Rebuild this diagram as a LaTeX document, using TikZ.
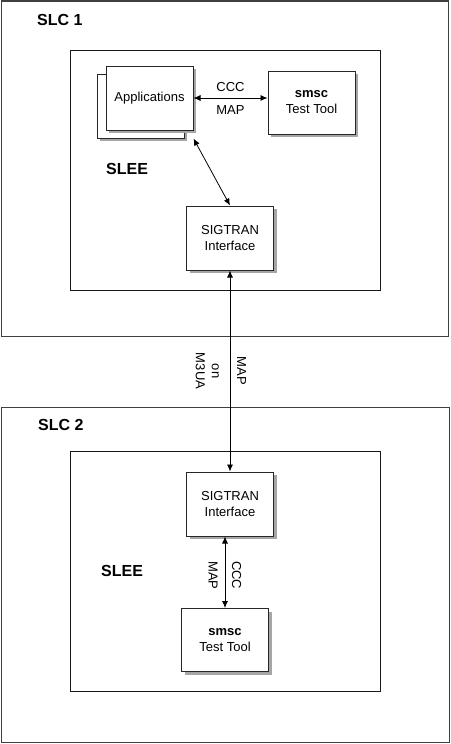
\documentclass[tikz,border=0pt]{standalone}
\usepackage{fontspec}
\setmainfont{Liberation Sans}
\usetikzlibrary{
	arrows.meta,
	shadows
}

\begin{document}
\begin{tikzpicture}[
    x=1pt, y=-1pt,
    every node/.style={font=\fontsize{13}{16}\selectfont},
    outerframe/.style={rectangle, draw=black!75, line width=1pt, minimum width=447pt, minimum height=335pt, inner sep=0pt},
    sleeframe/.style={rectangle, draw=black!90, line width=1pt, minimum width=310pt, minimum height=240pt, inner sep=0pt},
    box/.style={rectangle, draw=black!85, line width=1pt, fill=white, minimum width=87pt, minimum height=64pt, align=center, inner sep=0pt, drop shadow={shadow xshift=3pt, shadow yshift=-3pt, fill=black!35, opacity=1}},
    title/.style={font=\fontsize{16}{19}\selectfont\bfseries, anchor=west, inner sep=0pt},
    arrow/.style={line width=0.8pt, {Latex[length=7pt,width=6pt]}-{Latex[length=7pt,width=6pt]}}
]
\useasboundingbox (0,0) rectangle (450,744);

% Service logic containers
\node[outerframe] (slc1) at (224.5,168.5) {};
\node[outerframe, minimum width=448pt] (slc2) at (225,574.5) {};
\node[title] (slc1label) at (37,20) {SLC 1};
\node[title] (slc2label) at (38,425) {SLC 2};

% SLEE frames
\node[sleeframe] (slee1) at (225,170) {};
\node[sleeframe] (slee2) at (225,571.7) {};
\node[title] (slee1label) at (106,169) {SLEE};
\node[title] (slee2label) at (101,571) {SLEE};

% SLC 1 components
\node[box] (appsback) at (140.5,106) {};
\node[box] (apps) at (149.5,98) {Applications};
\node[box, minimum height=63pt] (smsc1) at (311.5,102.5) {\textbf{smsc}\\Test Tool};
\node[box] (sig1) at (230,238) {SIGTRAN\\Interface};

% SLC 2 components
\node[box] (sig2) at (230,504) {SIGTRAN\\Interface};
\node[box, minimum height=63pt] (smsc2) at (225,640) {\textbf{smsc}\\Test Tool};

% Arrows inside SLC 1
\draw[arrow] (apps.east) -- (apps.east -| smsc1.west)
    node[midway, above=3pt] {CCC}
    node[midway, below=4pt] {MAP};
\draw[arrow] (apps.south east |- appsback.south east) -- (sig1.north);

% Link between the SLCs
\draw[arrow] (sig1.south) -- (sig2.north)
    node[midway, xshift=11.7pt, rotate=-90] {MAP}
    node[midway, xshift=-22.6pt, rotate=-90, align=center] {on\\M3UA};

% Arrow inside SLC 2
\draw[arrow] (smsc2.north |- sig2.south) -- (smsc2.north)
    node[midway, xshift=-12pt, yshift=-3pt, rotate=-90] {MAP}
    node[midway, xshift=11.7pt, yshift=-3pt, rotate=-90] {CCC};

\end{tikzpicture}
\end{document}
